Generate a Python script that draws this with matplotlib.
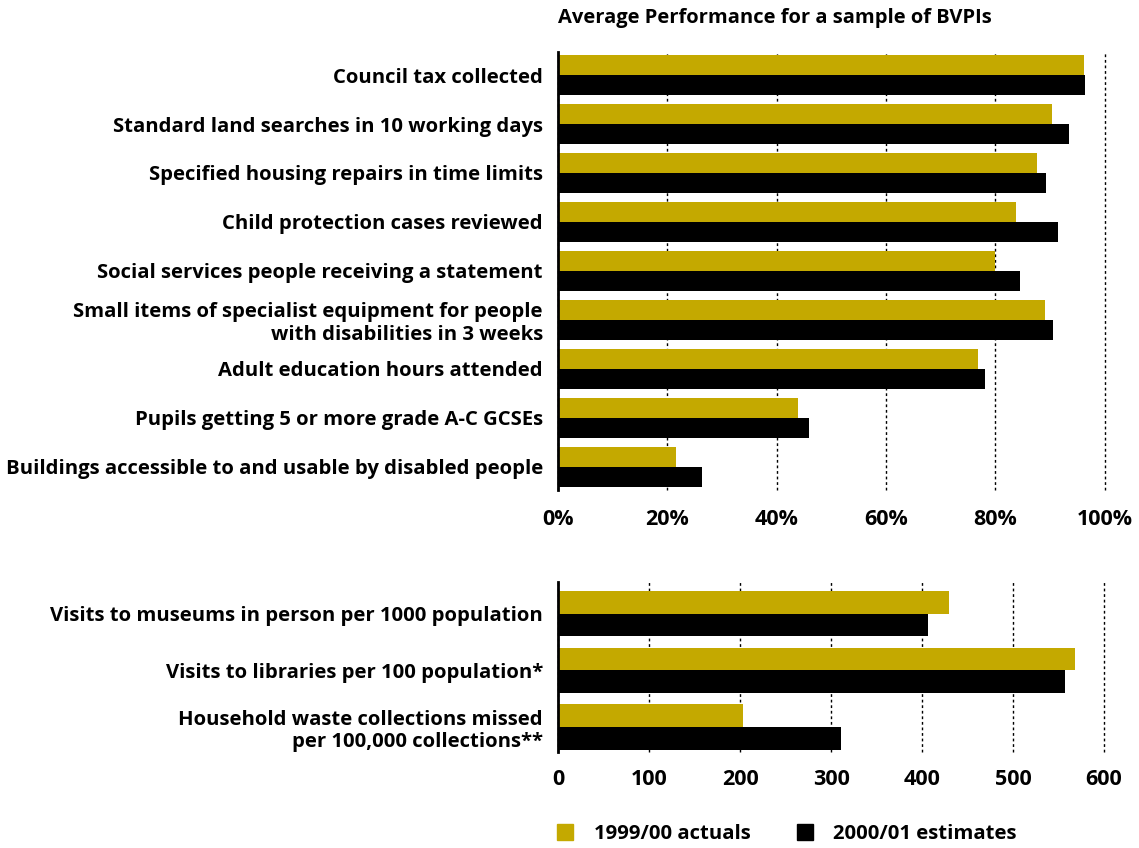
import matplotlib
matplotlib.use('Agg')
import matplotlib.pyplot as plt
from matplotlib.patches import Patch
from matplotlib.transforms import ScaledTranslation
import numpy as np

plt.rcParams['font.family'] = ['Open Sans', 'DejaVu Sans']
plt.rcParams['font.weight'] = 'bold'

GOLD = '#c4a900'
BLACK = '#000000'

# top chart: percentages
pct_labels = [
    "Council tax collected",
    "Standard land searches in 10 working days",
    "Specified housing repairs in time limits",
    "Child protection cases reviewed",
    "Social services people receiving a statement",
    "Small items of specialist equipment for people\nwith disabilities in 3 weeks",
    "Adult education hours attended",
    "Pupils getting 5 or more grade A-C GCSEs",
    "Buildings accessible to and usable by disabled people",
]
pct_1999 = [96.2, 90.3, 87.6, 83.7, 79.9, 89.0, 76.8, 43.8, 21.6]
pct_2000 = [96.3, 93.4, 89.2, 91.4, 84.5, 90.5, 78.1, 45.9, 26.3]
pct_ticks = [0, 20, 40, 60, 80, 100]
pct_ticklabels = ['0%', '20%', '40%', '60%', '80%', '100%']

# bottom chart: counts
cnt_labels = [
    "Visits to museums in person per 1000 population",
    "Visits to libraries per 100 population*",
    "Household waste collections missed\nper 100,000 collections**",
]
cnt_1999 = [430, 568, 203]
cnt_2000 = [406, 557, 311]
cnt_ticks = [0, 100, 200, 300, 400, 500, 600]

legend_labels = ['1999/00 actuals', '2000/01 estimates']

LABEL_FS = 14.6
TICK_FS = 15.5

fig = plt.figure(figsize=(11.39, 8.48), dpi=100)

ax1 = fig.add_axes([0.490, 0.4222, 0.480, 0.5165])
ax2 = fig.add_axes([0.490, 0.1132, 0.4793, 0.2005])

# nudge category labels up a touch
lift = ScaledTranslation(0, 0.025, fig.dpi_scale_trans)


def style_axis(ax, labels, ticks, ticklabels, xmax, ylim, xpad):
    ax.set_xlim(0, xmax)
    ax.set_ylim(*ylim)
    ax.set_yticks(np.arange(len(labels)))
    ax.set_yticklabels(labels, fontsize=LABEL_FS, fontweight='bold', ha='right',
                       linespacing=1.15)
    for lbl in ax.get_yticklabels():
        lbl.set_transform(lbl.get_transform() + lift)
    ax.set_xticks(ticks)
    ax.set_xticklabels(ticklabels, fontsize=TICK_FS, fontweight='bold')
    ax.tick_params(axis='both', length=0)
    ax.tick_params(axis='y', pad=11)
    ax.tick_params(axis='x', pad=xpad)
    for s in ['top', 'right', 'bottom']:
        ax.spines[s].set_visible(False)
    ax.spines['left'].set_linewidth(2)
    ax.spines['left'].set_color('black')
    ax.grid(axis='x', color='black', linestyle=(0, (2, 2)), linewidth=1)
    for gl in ax.get_xgridlines():
        gl.set_clip_on(False)
    ax.set_axisbelow(True)


y = np.arange(len(pct_labels))
ax1.barh(y - 0.2, pct_1999, height=0.4, color=GOLD)
ax1.barh(y + 0.2, pct_2000, height=0.4, color=BLACK)
style_axis(ax1, pct_labels, pct_ticks, pct_ticklabels, 100,
           (len(pct_labels) - 0.53, -0.47), 14)

y2 = np.arange(len(cnt_labels))
ax2.barh(y2 - 0.2, cnt_1999, height=0.4, color=GOLD)
ax2.barh(y2 + 0.2, cnt_2000, height=0.4, color=BLACK)
style_axis(ax2, cnt_labels, cnt_ticks, [str(t) for t in cnt_ticks], 600,
           (len(cnt_labels) - 0.56, -0.56), 12)

fig.text(0.490, 1 - 18 / 848, "Average Performance for a sample of BVPIs",
         fontsize=14.5, fontweight='bold', ha='left', va='center')

handles = [Patch(color=GOLD), Patch(color=BLACK)]
fig.legend(handles, legend_labels, loc='center left',
           bbox_to_anchor=(557 / 1139, 1 - 834 / 848), ncol=2, frameon=False,
           borderpad=0, borderaxespad=0,
           handlelength=0.8, handleheight=0.8, handletextpad=1.0,
           columnspacing=2.3, prop={'size': 14.6, 'weight': 'bold'})

fig.savefig('out.png', dpi=100)
